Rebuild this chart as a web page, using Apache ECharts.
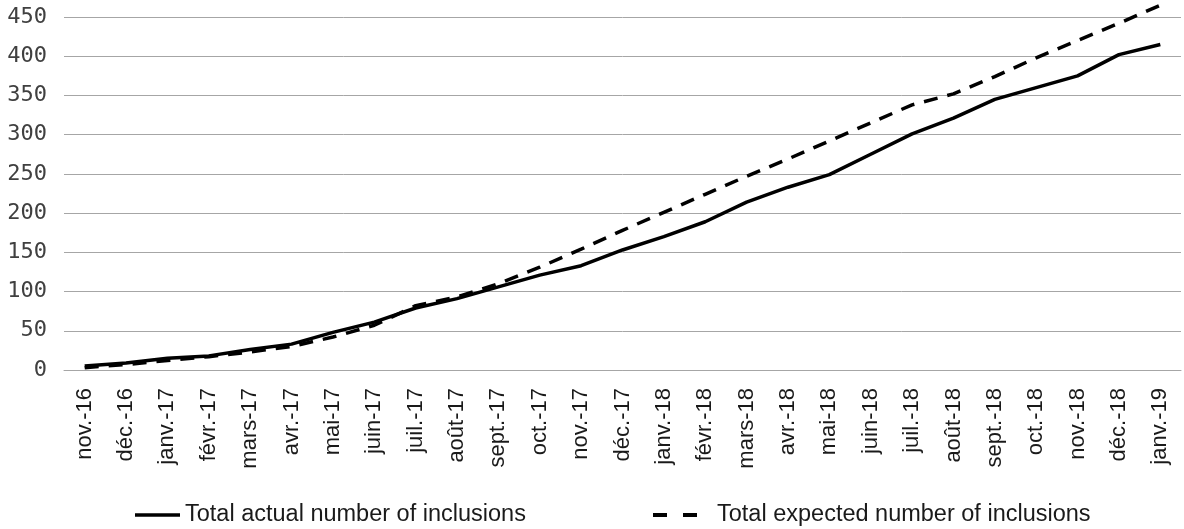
<!DOCTYPE html>
<html>
<head>
<meta charset="utf-8">
<script src="https://cdn.jsdelivr.net/npm/echarts@6/dist/echarts.min.js"></script>
<style>
html,body{margin:0;padding:0;background:#fff;overflow:hidden;}
#chart{width:1184px;height:529px;}
</style>
</head>
<body>
<div id="chart"></div>
<script>
const categories = ["nov.-16","déc.-16","janv.-17","févr.-17","mars-17","avr.-17","mai-17","juin-17","juil.-17","août-17","sept.-17","oct.-17","nov.-17","déc.-17","janv.-18","févr.-18","mars-18","avr.-18","mai-18","juin-18","juil.-18","août-18","sept.-18","oct.-18","nov.-18","déc.-18","janv.-19"];
const actualName = "Total actual number of inclusions";
const expectedName = "Total expected number of inclusions";
const actualValues = [5, 9, 15, 18, 26, 33, 48, 61, 79, 91, 106, 121, 133, 153, 170, 189, 214, 233, 249, 275, 301, 321, 345, 360, 375, 402, 415];
const expectedValues = [3, 7, 12, 17, 23, 30, 42, 57, 82, 93, 110, 131, 154, 178, 201, 224, 247, 269, 292, 315, 338, 352, 374, 398, 420, 442, 465];
const yTicks = {min: 0, max: 450, interval: 50};

const chart = echarts.init(document.getElementById('chart'), null, {renderer: 'canvas'});
chart.setOption({
  animation: false,
  backgroundColor: '#ffffff',
  grid: {left: 64, right: 3, top: 17, bottom: 159, containLabel: false},
  legend: [
    {
      data: [{name: actualName, icon: 'rect'}],
      left: 130, top: 498,
      itemWidth: 45, itemHeight: 3.5,
      textStyle: {fontFamily: 'Liberation Sans', fontSize: 23.5, color: '#1a1a1a'}
    },
    {
      data: [{name: expectedName, icon: 'path://M0,0H14V4H0Z M30,0H44V4H30Z'}],
      left: 648, top: 498,
      itemWidth: 44, itemHeight: 4,
      textStyle: {fontFamily: 'Liberation Sans', fontSize: 23.5, color: '#1a1a1a', padding: [0, 0, 0, 15]}
    }
  ],
  xAxis: {
    type: 'category',
    data: categories,
    boundaryGap: true,
    axisLine: {show: true, lineStyle: {color: '#a6a6a6', width: 1}},
    axisTick: {show: false},
    axisLabel: {interval: 0, rotate: 90, margin: 18, fontFamily: 'Liberation Sans', fontSize: 22, color: '#1a1a1a'}
  },
  yAxis: {
    type: 'value',
    min: yTicks.min, max: yTicks.max, interval: yTicks.interval,
    axisLine: {show: false},
    axisTick: {show: false},
    splitLine: {lineStyle: {color: '#a6a6a6', width: 1}},
    axisLabel: {margin: 17, fontFamily: 'DejaVu Sans Mono', fontSize: 22, color: '#404040'}
  },
  series: [
    {
      name: actualName,
      type: 'line',
      data: actualValues,
      symbol: 'none',
      clip: false,
      lineStyle: {color: '#000000', width: 3.5, type: 'solid'},
      itemStyle: {color: '#000000'}
    },
    {
      name: expectedName,
      type: 'line',
      data: expectedValues,
      symbol: 'none',
      clip: false,
      lineStyle: {color: '#000000', width: 3.5, type: [14, 10]},
      itemStyle: {color: '#000000'}
    }
  ]
});
</script>
</body>
</html>
